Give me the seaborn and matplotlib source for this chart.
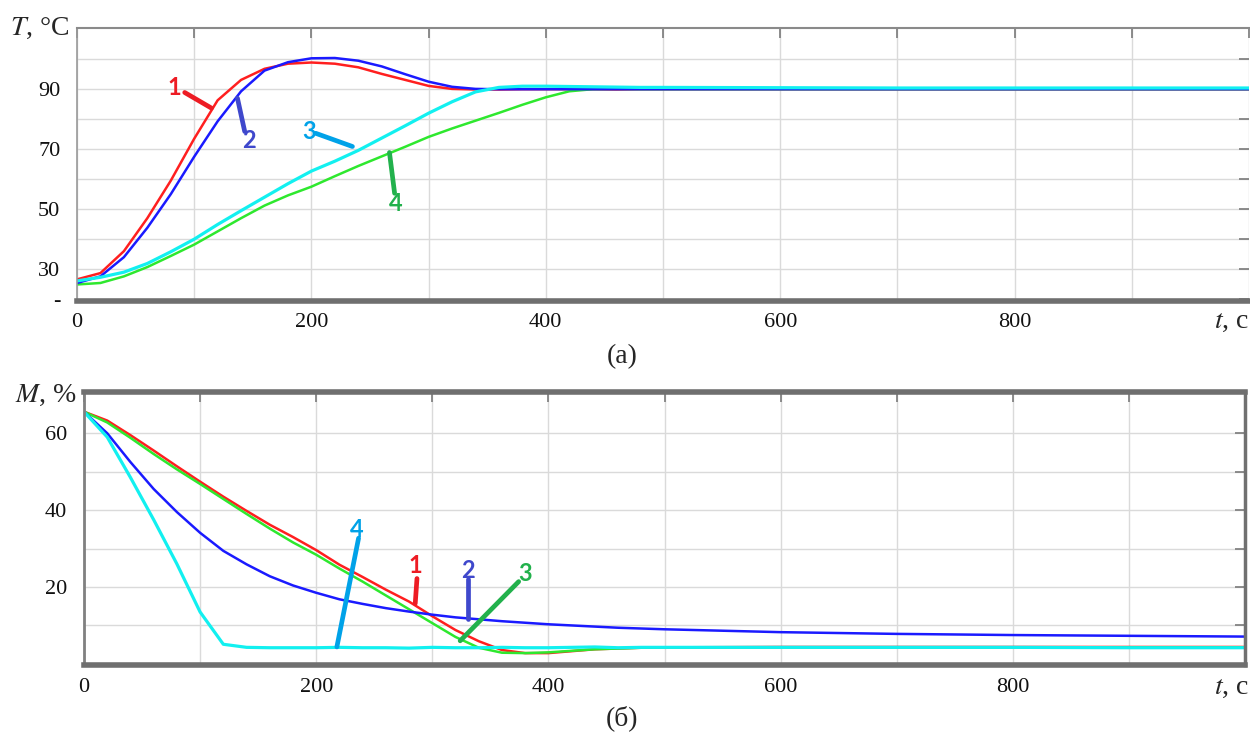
import matplotlib
matplotlib.use("Agg")
import matplotlib.pyplot as plt
import pandas as pd
import seaborn as sns

# time grid, s
t_grid = [0, 20, 40, 60, 80, 100, 120, 140, 160, 180, 200, 220, 240, 260, 280, 300,
          320, 340, 360, 380, 400, 420, 440, 460, 480, 500, 600, 700, 800, 900, 1000]

# (а) temperature T, °C
temp_red = [26.6, 28.7, 36.0, 47.0, 59.5, 73.5, 86.3, 93.1, 96.8, 98.5, 98.9, 98.5, 97.3, 95.1, 93.1, 91.1,
            90.1, 89.9, 89.9, 90.0, 90.0, 90.0, 90.0, 89.9, 90.0, 90.0, 90.0, 90.0, 90.0, 90.0, 90.0]
temp_blue = [25.4, 27.6, 34.0, 43.8, 55.0, 67.5, 79.3, 89.3, 96.2, 99.0, 100.3, 100.4, 99.5, 97.6, 95.0, 92.5,
             90.8, 90.1, 90.0, 90.0, 90.0, 90.0, 90.0, 90.0, 90.0, 90.0, 90.0, 90.0, 90.0, 90.0, 90.0]
temp_cyan = [26.1, 27.3, 29.0, 31.9, 35.8, 40.0, 44.9, 49.5, 54.0, 58.5, 62.7, 66.0, 69.6, 73.7, 77.8, 82.0,
             85.8, 89.1, 90.6, 91.0, 91.0, 90.9, 90.8, 90.7, 90.6, 90.6, 90.5, 90.4, 90.4, 90.4, 90.4]
temp_green = [24.9, 25.4, 27.6, 30.7, 34.4, 38.2, 42.6, 47.0, 51.2, 54.6, 57.5, 61.0, 64.4, 67.6, 70.8, 74.1,
              76.9, 79.5, 82.1, 84.8, 87.3, 89.3, 90.0, 90.1, 90.0, 90.0, 90.0, 90.0, 90.0, 90.0, 90.0]

# (б) moisture M, %
moist_red = [65.6, 63.3, 59.5, 55.5, 51.4, 47.4, 43.5, 39.8, 36.2, 33.0, 29.6, 25.8, 22.6, 19.3, 16.2, 12.4,
             8.8, 5.9, 3.6, 2.8, 2.8, 3.3, 3.8, 4.0, 4.2, 4.3, 4.4, 4.4, 4.4, 4.4, 4.4]
moist_blue = [65.6, 60.0, 52.5, 45.5, 39.5, 34.1, 29.4, 25.9, 22.8, 20.4, 18.5, 16.8, 15.6, 14.5, 13.6, 12.8,
              12.1, 11.6, 11.1, 10.7, 10.3, 10.0, 9.7, 9.4, 9.2, 9.0, 8.25, 7.8, 7.5, 7.3, 7.1]
moist_green = [65.6, 62.8, 58.8, 54.6, 50.6, 46.8, 42.9, 39.0, 35.2, 31.6, 28.4, 24.8, 21.4, 17.8, 14.2, 10.6,
               7.0, 4.2, 2.9, 2.8, 3.0, 3.4, 3.8, 4.0, 4.2, 4.3, 4.3, 4.3, 4.3, 4.3, 4.3]
moist_cyan = [65.6, 59.0, 48.5, 37.5, 26.0, 13.5, 5.1, 4.3, 4.2, 4.2, 4.2, 4.3, 4.2, 4.2, 4.1, 4.3,
              4.2, 4.2, 4.3, 4.2, 4.2, 4.3, 4.4, 4.2, 4.3, 4.3, 4.3, 4.3, 4.3, 4.2, 4.2]

x_labels = {0: "0", 200: "200", 400: "400", 600: "600", 800: "800"}
temp_labels = {20: "-", 30: "30", 50: "50", 70: "70", 90: "90"}
moist_labels = {20: "20", 40: "40", 60: "60"}

line_colors = {"red": "#ff1f1f", "blue": "#1a1aff", "green": "#2ee82e", "cyan": "#12f0f0"}
draw_order = ["red", "green", "blue", "cyan"]
line_widths = {"red": 1.8, "green": 1.8, "blue": 1.8, "cyan": 2.3}

# paint-style marker colours for the numbered leaders
c_red, c_ind, c_turq, c_grn = "#ed1c24", "#3f48cc", "#00a2e8", "#22b14c"


def long_frame(t, series):
    parts = [pd.DataFrame({"t": t, "v": vals, "curve": name}) for name, vals in series.items()]
    return pd.concat(parts, ignore_index=True)


def draw_curves(ax, df):
    for name in draw_order:
        sns.lineplot(data=df[df["curve"] == name], x="t", y="v", color=line_colors[name],
                     estimator=None, sort=False, lw=line_widths[name], legend=False, ax=ax)


def style_axes(ax, ylim, yticks, ylabels):
    ax.set_xlim(0, 1000)
    ax.set_ylim(*ylim)
    ax.set_xticks(range(0, 1001, 100))
    ax.set_xticklabels([x_labels.get(v, "") for v in range(0, 1001, 100)])
    ax.set_yticks(yticks)
    ax.set_yticklabels([ylabels.get(v, "") for v in yticks])
    ax.grid(True, color="#dadada", lw=1.0)
    ax.set_axisbelow(True)
    ax.tick_params(direction="in", length=7, width=1.2, color="#7a7a7a",
                   top=True, right=True, labelsize=16, labelcolor="#111111")
    ax.tick_params(axis="x", pad=9)
    ax.tick_params(axis="y", pad=12)
    ax.set_xlabel("")
    ax.set_ylabel("")


def leader(ax, x0, y0, x1, y1, tx, ty, text, color):
    ax.plot([x0, x1], [y0, y1], color=color, lw=3.4, solid_capstyle="round", zorder=5)
    ax.text(tx, ty, text, color=color, fontsize=17, fontweight="bold",
            family=["Lato", "DejaVu Sans"], ha="center", va="center", zorder=6)


sns.set_style("white")
plt.rcParams["font.family"] = ["Liberation Serif", "DejaVu Serif"]
plt.rcParams["mathtext.fontset"] = "stix"

fig = plt.figure(figsize=(12.5, 7.35), dpi=100)

# ---------- (а)
ax1 = fig.add_axes([0.0616, 0.5905, 0.9376, 0.3714])
draw_curves(ax1, long_frame(t_grid, {"red": temp_red, "green": temp_green,
                                     "blue": temp_blue, "cyan": temp_cyan}))
style_axes(ax1, (19.4, 110.4), list(range(20, 101, 10)), temp_labels)
ax1.spines["right"].set_visible(False)
ax1.spines["top"].set(color="#8a8a8a", lw=1.5)
ax1.spines["left"].set(color="#9a9a9a", lw=1.2)
ax1.spines["bottom"].set(color="#6f6f6f", lw=4)

leader(ax1, 91.9, 88.9, 114.7, 83.7, 83.4, 90.6, "1", c_red)
leader(ax1, 136.9, 87.0, 143.1, 75.9, 146.8, 72.8, "2", c_ind)
leader(ax1, 203.7, 75.3, 235.0, 70.9, 198.0, 75.8, "3", c_turq)
leader(ax1, 266.6, 68.9, 271.0, 55.3, 272.0, 52.0, "4", c_grn)

# ---------- (б)
ax2 = fig.add_axes([0.0672, 0.0952, 0.9288, 0.3708])
draw_curves(ax2, long_frame(t_grid, {"red": moist_red, "green": moist_green,
                                     "blue": moist_blue, "cyan": moist_cyan}))
style_axes(ax2, (-0.3, 70.6), list(range(10, 61, 10)), moist_labels)
ax2.spines["top"].set(color="#6f6f6f", lw=4)
ax2.spines["bottom"].set(color="#6f6f6f", lw=4)
ax2.spines["left"].set(color="#808080", lw=2)
ax2.spines["right"].set(color="#707070", lw=2.5)

leader(ax2, 236.5, 32.7, 217.8, 4.4, 235.0, 35.0, "4", c_turq)
leader(ax2, 286.8, 22.2, 285.3, 15.7, 285.3, 25.6, "1", c_red)
leader(ax2, 330.4, 22.0, 330.4, 11.8, 330.4, 24.4, "2", c_ind)
leader(ax2, 374.4, 21.4, 324.0, 6.0, 379.8, 23.4, "3", c_grn)

# axis names and captions
fig.text(0.008, 1 - 28 / 735, r"$T$, °C", fontsize=20, va="center", ha="left")
fig.text(0.012, 1 - 395 / 735, r"$M$, %", fontsize=20, va="center", ha="left")
fig.text(0.999, 1 - 322 / 735, r"$t$, c", fontsize=20, va="center", ha="right")
fig.text(0.999, 1 - 688 / 735, r"$t$, c", fontsize=20, va="center", ha="right")
fig.text(622 / 1250, 1 - 357 / 735, "(а)", fontsize=20, va="center", ha="center")
fig.text(622 / 1250, 1 - 718 / 735, "(б)", fontsize=20, va="center", ha="center")

fig.savefig("out.png", dpi=100)
